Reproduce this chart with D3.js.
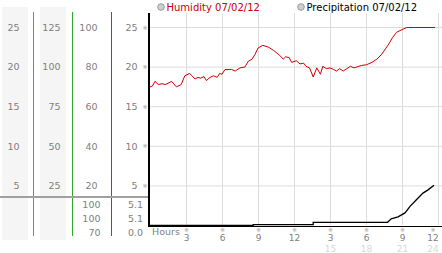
<!DOCTYPE html>
<html>
<head>
<meta charset="utf-8">
<script src="https://cdn.jsdelivr.net/npm/d3@7"></script>
<style>
  body { margin: 0; background: #fff; }
  svg { display: block; font-family: "DejaVu Sans", Verdana, sans-serif; }
</style>
</head>
<body>
<div class="chart"></div>
<script>
// readings: [hour, value]
const humidity = [
  [0, 17.5], [0.2, 17.6], [0.42, 18.2], [0.69, 17.8], [1.0, 17.9], [1.3, 17.8], [1.8, 18.2], [2.2, 17.5],
  [2.6, 17.8], [2.9, 18.9], [3.3, 19.2], [3.5, 18.9], [3.75, 18.5], [4.0, 18.7], [4.2, 18.6], [4.5, 18.8],
  [4.7, 18.3], [5.0, 18.7], [5.3, 18.9], [5.6, 18.7], [5.8, 19.2], [6.0, 19.1], [6.25, 19.7], [6.8, 19.7],
  [7.1, 19.5], [7.5, 19.9], [7.9, 20.0], [8.2, 20.75], [8.5, 21.0], [8.75, 21.6], [9.0, 22.4], [9.4, 22.75],
  [9.9, 22.5], [10.3, 22.1], [10.55, 21.8], [10.8, 21.5], [11.1, 21.0], [11.3, 21.3], [11.6, 21.2],
  [11.8, 20.6], [12.2, 20.8], [12.5, 20.4], [12.8, 20.5], [13.0, 20.1], [13.3, 19.9], [13.6, 18.75],
  [13.9, 19.9], [14.2, 19.1], [14.4, 20.1], [14.7, 19.8], [15.0, 19.9], [15.3, 19.7], [15.55, 19.5],
  [15.8, 19.8], [16.1, 19.5], [16.4, 19.8], [16.7, 20.1], [17.0, 19.9], [17.2, 20.0], [17.6, 20.2],
  [18.05, 20.3], [18.5, 20.6], [18.9, 21.0], [19.3, 21.6], [19.85, 22.8], [20.2, 23.7], [20.55, 24.4],
  [21.1, 24.8], [21.4, 25.0], [23.75, 25.0]
]
const precipitation = [
  [0, 0], [8.6, 0], [8.6, 0.12], [13.6, 0.12], [13.6, 0.4], [19.8, 0.4], [20.1, 0.84], [20.67, 1.09],
  [21.25, 1.59], [21.67, 2.41], [22.2, 3.25], [22.75, 4.09], [23.17, 4.5], [23.67, 5.09]
]
const hourTicks = [3, 6, 9, 12, 15, 18, 21, 24]
const hourLabels = ["3", "6", "9", "12", "3", "6", "9", "12"]
const dayLabels = ["", "", "", "", "15", "18", "21", "24"]
const yTicks = [25, 20, 15, 10, 5]
const col1Labels = ["25", "20", "15", "10", "5"]
const col2Labels = ["125", "100", "75", "50", "25"]
const col3Labels = ["100", "80", "60", "40", "20"]
const col4Labels = ["25", "20", "15", "10", "5"]
const lowCol3 = ["100", "100", "70"]
const lowCol4 = ["5.1", "5.1", "0.0"]
const legend = [
  {name: "Humidity 07/02/12", color: "#cc0000", x: 161},
  {name: "Precipitation 07/02/12", color: "#000", x: 301}
]

const width = 442, height = 253
const svg = d3.select(".chart").append("svg").attr("width", width).attr("height", height)

const x = d3.scaleLinear().domain([0, 24]).range([150, 438])
const y = d3.scaleLinear().domain([0, 25]).range([225.5, 27.5])

// left side panels
svg.append("rect").attr("x", 2).attr("y", 7).attr("width", 26).attr("height", 233).attr("fill", "#f5f5f5")
svg.append("rect").attr("x", 40).attr("y", 7).attr("width", 26).attr("height", 233).attr("fill", "#f5f5f5")

const sideLines = [{x: 33.5, c: "#2a9fd0"}, {x: 72.5, c: "#2fa82f"}, {x: 111.5, c: "#c82828"}]
svg.selectAll(".side").data(sideLines).enter().append("line")
  .attr("x1", d => d.x).attr("x2", d => d.x).attr("y1", 12).attr("y2", 236)
  .attr("stroke", d => d.c).attr("stroke-width", 1)

const labelStyle = sel => sel.attr("font-size", 9.5).attr("fill", "#808080").attr("dy", "0.35em")
const cols = [
  {labels: col1Labels, x: 19.5},
  {labels: col2Labels, x: 60.5},
  {labels: col3Labels, x: 97.5},
  {labels: col4Labels, x: 137.5}
]
cols.forEach(c => {
  svg.append("g").selectAll("text").data(c.labels).enter().append("text")
    .attr("x", c.x).attr("y", (d, i) => y(yTicks[i]))
    .attr("text-anchor", "end").call(labelStyle).text(d => d)
})
// little markers beside the plot scale
svg.append("g").selectAll("text").data(yTicks).enter().append("text")
  .attr("x", 145).attr("y", d => y(d)).attr("text-anchor", "middle")
  .attr("font-size", 6).attr("fill", "#999").attr("dy", "0.35em").text("※")

// separator and lower rows
svg.append("line").attr("x1", 0).attr("x2", 149).attr("y1", 197).attr("y2", 197)
  .attr("stroke", "#a0a0a0").attr("stroke-width", 2)
const lowY = [204.5, 218.5, 232.5]
svg.append("g").selectAll("text").data(lowCol3).enter().append("text")
  .attr("x", 100.5).attr("y", (d, i) => lowY[i]).attr("text-anchor", "end").call(labelStyle).text(d => d)
svg.append("g").selectAll("text").data(lowCol4).enter().append("text")
  .attr("x", 143).attr("y", (d, i) => lowY[i]).attr("text-anchor", "end").call(labelStyle).text(d => d)

// grid
svg.append("g").selectAll("line").data(yTicks).enter().append("line")
  .attr("x1", 150).attr("x2", width).attr("y1", d => y(d)).attr("y2", d => y(d))
  .attr("stroke", "#dcdcdc")
svg.append("g").selectAll("line").data(hourTicks).enter().append("line")
  .attr("x1", d => x(d) + 0.5).attr("x2", d => x(d) + 0.5).attr("y1", 13).attr("y2", 225)
  .attr("stroke", "#dcdcdc")

// axes
svg.append("line").attr("x1", 150).attr("x2", width).attr("y1", 226.5).attr("y2", 226.5)
  .attr("stroke", "#000")
svg.append("line").attr("x1", 149).attr("x2", 149).attr("y1", 13).attr("y2", 227)
  .attr("stroke", "#000").attr("stroke-width", 2)

// x labels (last one pulled in so it stays inside the frame)
const tickX = (i) => i === hourTicks.length - 1 ? 433 : x(hourTicks[i]) + 0.5
svg.append("text").attr("x", 152).attr("y", 235).attr("font-size", 9.5).attr("fill", "#808080").text("Hours")
svg.append("g").selectAll("text").data(hourTicks).enter().append("text")
  .attr("x", (d, i) => tickX(i)).attr("y", 232).attr("text-anchor", "middle")
  .attr("font-size", 6).attr("fill", "#999").text("※")
svg.append("g").selectAll("text").data(hourLabels).enter().append("text")
  .attr("x", (d, i) => tickX(i)).attr("y", 241).attr("text-anchor", "middle")
  .attr("font-size", 9).attr("fill", "#808080").text(d => d)
svg.append("g").selectAll("text").data(dayLabels).enter().append("text")
  .attr("x", (d, i) => tickX(i)).attr("y", 251.5).attr("text-anchor", "middle")
  .attr("font-size", 9).attr("fill", "#d8d8d8").text(d => d)

// series
const line = d3.line().x(d => x(d[0])).y(d => y(d[1]))
svg.append("path").datum(precipitation).attr("d", line)
  .attr("fill", "none").attr("stroke", "#000").attr("stroke-width", 1.3)
svg.append("path").datum(humidity).attr("d", line)
  .attr("fill", "none").attr("stroke", "#cc0000").attr("stroke-width", 1)

// legend
const lg = svg.append("g").selectAll("g").data(legend).enter().append("g")
lg.append("circle").attr("cx", d => d.x).attr("cy", 7).attr("r", 3.3)
  .attr("fill", "#d0d0d0").attr("stroke", "#999").attr("stroke-width", 1)
lg.append("text").attr("x", d => d.x + 5.5).attr("y", 11).attr("font-size", 10)
  .attr("fill", d => d.color).text(d => d.name)
</script>
</body>
</html>
